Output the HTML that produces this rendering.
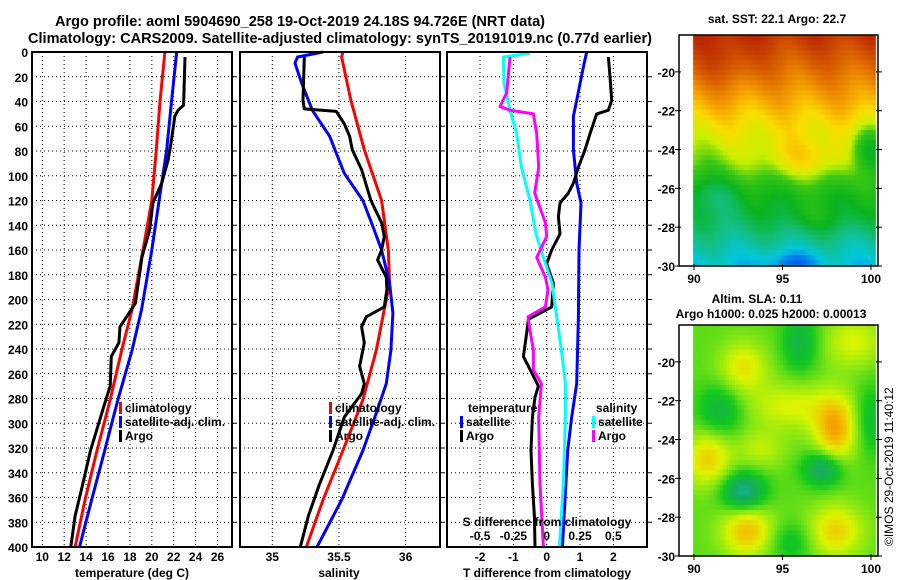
<!DOCTYPE html>
<html><head><meta charset="utf-8"><style>
html,body{margin:0;padding:0;background:#fff;}
svg{display:block;font-family:"Liberation Sans",Arial,sans-serif;font-weight:bold;}
</style></head><body>
<svg id="chart" width="900" height="580" viewBox="0 0 900 580" xmlns="http://www.w3.org/2000/svg">
<rect width="900" height="580" fill="#fff"/>
<text x="55" y="26" font-size="14.5" textLength="490" lengthAdjust="spacingAndGlyphs">Argo profile: aoml 5904690_258 19-Oct-2019 24.18S 94.726E (NRT data)</text>
<text x="28" y="43" font-size="14.5" textLength="624" lengthAdjust="spacingAndGlyphs">Climatology: CARS2009. Satellite-adjusted climatology: synTS_20191019.nc (0.77d earlier)</text>
<g id="plots"></g>
<foreignObject x="679" y="35" width="199" height="231"><canvas xmlns="http://www.w3.org/1999/xhtml" id="sstmap" width="199" height="231"></canvas></foreignObject>
<foreignObject x="679" y="325" width="199" height="231"><canvas xmlns="http://www.w3.org/1999/xhtml" id="slamap" width="199" height="231"></canvas></foreignObject>
<g id="maps"></g>
<text x="777" y="23" font-size="12" text-anchor="middle">sat. SST: 22.1 Argo: 22.7</text>
<text x="757" y="303" font-size="12" text-anchor="middle">Altim. SLA: 0.11</text>
<text x="771" y="318" font-size="12" text-anchor="middle">Argo h1000: 0.025 h2000: 0.00013</text>
<text x="893" y="546" font-size="12" font-weight="normal" transform="rotate(-90 893 546)">©IMOS 29-Oct-2019 11:40:12</text>
</svg>
<script>
// ---------- data ----------
const depthTicks=[0,20,40,60,80,100,120,140,160,180,200,220,240,260,280,300,320,340,360,380,400];
const tTickLabels=[10,12,14,16,18,20,22,24,26];
const sTickLabels=[35,35.5,36];
const dTTickLabels=[-2,-1,0,1,2];
const dSTickLabels=[-0.5,-0.25,0,0.25,0.5];
const climTDepth=[0,40,80,120,160,208,241,281,322,362,400];
const climT=[21.2,20.75,20.4,20.0,19.2,18.2,17.25,16.2,15.0,13.9,13.0];
const satTDepth=[0,40,79,106,160,208,241,281,322,362,400];
const satT=[22.27,21.8,21.36,20.9,20.0,19.07,18.2,16.9,15.7,14.5,13.4];
const argoTDepth=[4,43,47,52,71,87,106,122,144,166,203,214,222,235,246,270,287,322,349,375,400];
const argoT=[23.03,22.9,22.4,22.1,21.8,21.5,20.9,20.1,19.8,19.1,18.5,17.7,17.1,17.0,16.3,16.2,15.6,14.4,13.7,13.0,12.6];
const climSDepth=[0,4,39,79,120,160,187,208,241,281,322,362,400];
const climS=[35.53,35.52,35.59,35.69,35.82,35.87,35.88,35.84,35.78,35.68,35.53,35.38,35.255];
const satSDepth=[0,4,9,25,47,68,98,120,141,160,187,211,241,268,295,322,362,400];
const satS=[35.38,35.19,35.17,35.22,35.30,35.43,35.54,35.68,35.755,35.82,35.88,35.905,35.89,35.855,35.77,35.68,35.52,35.335];
const argoSDepth=[4,39,46,48,58,68,79,95,120,138,149,160,168,182,192,206,214,222,235,254,268,276,295,322,349,375,400];
const argoS=[35.24,35.23,35.24,35.48,35.54,35.58,35.6,35.67,35.74,35.82,35.84,35.82,35.79,35.855,35.86,35.84,35.705,35.67,35.69,35.655,35.69,35.67,35.54,35.455,35.355,35.27,35.21];
const dTSatDepth=[0,12,39,52,79,106,122,160,214,268,295,322,362,400];
const dTSat=[1.2,1.1,0.9,0.8,0.8,0.9,1.03,0.97,0.95,0.9,0.75,0.63,0.55,0.47];
const dTArgoDepth=[4,20,39,47,50,66,79,93,106,114,122,133,147,160,171,187,206,216,227,246,262,270,279,295,322,349,375,400];
const dTArgo=[1.85,1.9,1.95,1.85,1.5,1.3,1.15,0.95,0.8,0.65,0.4,0.35,0.4,0.15,0,0.2,0.15,-0.55,-0.6,-0.7,-0.4,-0.25,-0.35,-0.43,-0.47,-0.43,-0.37,-0.35];
const dSSatDepth=[1,4,25,47,66,93,120,147,166,187,214,241,268,295,349,400];
const dSSat=[-0.125,-0.325,-0.32,-0.275,-0.225,-0.19,-0.125,-0.08,-0.025,0.04,0.075,0.11,0.14,0.14,0.125,0.095];
const dSArgoDepth=[4,33,44,47,50,66,93,114,138,149,166,182,192,206,214,225,241,257,268,295,349,400];
const dSArgo=[-0.275,-0.3,-0.35,-0.275,-0.1,-0.075,-0.06,-0.09,-0.01,0,-0.075,-0.01,0.01,-0.01,-0.14,-0.125,-0.1,-0.1,-0.04,-0.06,-0.05,-0.025];
const latTicks=[-20,-22,-24,-26,-28,-30];
const lonTicks=[90,95,100];

const NS="http://www.w3.org/2000/svg";
const plots=document.getElementById('plots');
function mk(tag,attrs,parent){const e=document.createElementNS(NS,tag);for(const k in attrs)e.setAttribute(k,attrs[k]);(parent||plots).appendChild(e);return e;}
const Y0=52,Y1=547;
const yD=d=>Y0+d*(Y1-Y0)/400;

function panel(name,x0,x1,xf,grids){
  const g=mk('g',{});
  
  
  grids.forEach(v=>{const gl=mk('line',{x1:xf(v),x2:xf(v),y1:Y0,y2:Y1,stroke:'#000','stroke-width':1,'stroke-dasharray':'1,3'},g);
    
    });
  depthTicks.forEach(d=>{if(d===0||d===400)return;const gl=mk('line',{x1:x0,x2:x1,y1:yD(d),y2:yD(d),stroke:'#000','stroke-width':1,'stroke-dasharray':'1,3'},g);
    
    
    const tk=mk('line',{x1:x1-1,x2:x1+5,y1:yD(d),y2:yD(d),stroke:'#000'},g);
    
    });
  return g;
}
function frame(g,x0,x1){const r=mk('rect',{x:x0,y:Y0,width:x1-x0,height:Y1-Y0,fill:'none',stroke:'#000','stroke-width':2},g);
  
  }
function line(g,name,ds,vs,xf,col){
  const p=mk('polyline',{points:ds.map((d,i)=>xf(vs[i]).toFixed(1)+','+yD(d).toFixed(1)).join(' '),fill:'none',stroke:col,'stroke-width':3,'stroke-linejoin':'round'},g);
  
  
}
function txt(g,name,x,y,s,opt){const t=mk('text',Object.assign({x:x,y:y,'font-size':12},opt||{}),g);t.textContent=s;
  
  return t;}
function leg(g,name,x,y,col,label){const r=mk('rect',{x:x,y:y-10,width:3,height:12,fill:col},g);
  
  
  txt(g,name,x+6,y,label);}

// Panel 1 temperature
const xT=v=>42.3+(v-10)*10.95;
let g1=panel('temperature-panel',32,232,xT,tTickLabels);
depthTicks.forEach(d=>txt(g1,'depth-tick-label',28,yD(d)+5,String(d),{'text-anchor':'end'}));
tTickLabels.forEach(v=>txt(g1,'temperature-tick-label',xT(v),561,String(v),{'text-anchor':'middle'}));
txt(g1,'x-axis-title-temperature',132,577,'temperature (deg C)',{'text-anchor':'middle'});
line(g1,'climatology-temperature-line',climTDepth,climT,xT,'#f00');
line(g1,'satellite-temperature-line',satTDepth,satT,xT,'#00f');
line(g1,'argo-temperature-line',argoTDepth,argoT,xT,'#000');
leg(g1,'legend-climatology',119,412,'#f00','climatology');
leg(g1,'legend-satellite-adj',119,426,'#00f','satellite-adj. clim.');
leg(g1,'legend-argo',119,440,'#000','Argo');
frame(g1,32,232);

// Panel 2 salinity
const xS=v=>272.3+(v-35)*133.3;
let g2=panel('salinity-panel',240,440,xS,sTickLabels);
sTickLabels.forEach(v=>txt(g2,'salinity-tick-label',xS(v),561,String(v),{'text-anchor':'middle'}));
txt(g2,'x-axis-title-salinity',339,577,'salinity',{'text-anchor':'middle'});
line(g2,'climatology-salinity-line',climSDepth,climS,xS,'#f00');
line(g2,'satellite-salinity-line',satSDepth,satS,xS,'#00f');
line(g2,'argo-salinity-line',argoSDepth,argoS,xS,'#000');
leg(g2,'legend-climatology',329,412,'#f00','climatology');
leg(g2,'legend-satellite-adj',329,426,'#00f','satellite-adj. clim.');
leg(g2,'legend-argo',329,440,'#000','Argo');
frame(g2,240,440);

// Panel 3 differences
const xdT=v=>546.7+v*33.33;
const xdS=v=>546.7+v*133.3;
let g3=panel('difference-panel',447,647,xdT,dTTickLabels);
dTTickLabels.forEach(v=>txt(g3,'t-diff-tick-label',xdT(v),561,String(v),{'text-anchor':'middle'}));
txt(g3,'x-axis-title-t-diff',547,577,'T difference from climatology',{'text-anchor':'middle'});
line(g3,'satellite-t-diff-line',dTSatDepth,dTSat,xdT,'#00f');
line(g3,'argo-t-diff-line',dTArgoDepth,dTArgo,xdT,'#000');
line(g3,'satellite-s-diff-line',dSSatDepth,dSSat,xdS,'#0ff');
line(g3,'argo-s-diff-line',dSArgoDepth,dSArgo,xdS,'#f0f');
txt(g3,'legend-temperature-heading',468,412,'temperature');
leg(g3,'legend-t-satellite',460,426,'#00f','satellite');
leg(g3,'legend-t-argo',460,440,'#000','Argo');
txt(g3,'legend-salinity-heading',596,412,'salinity');
leg(g3,'legend-s-satellite',592,426,'#0ff','satellite');
leg(g3,'legend-s-argo',592,440,'#f0f','Argo');
txt(g3,'s-diff-axis-title',547,526,'S difference from climatology',{'text-anchor':'middle'});
dSTickLabels.forEach(v=>txt(g3,'s-diff-tick-label',xdS(v),540,String(v),{'text-anchor':'middle'}));
frame(g3,447,647);

// ---------- maps ----------
const maps=document.getElementById('maps');
function mapAxes(name,y0,y1){
  const g=mk('g',{},maps);
  
  
  const lat=v=>y0+(-18.1-v)*((y1-y0)/11.9);
  const lon=v=>694+(v-90)*17.7;
  latTicks.forEach(v=>{txt(g,'lat-tick-label',675,lat(v)+5,String(v),{'text-anchor':'end'});
    const t=mk('line',{x1:675,x2:681,y1:lat(v),y2:lat(v),stroke:'#000'},g);
    
    const t2=mk('line',{x1:876,x2:882,y1:lat(v),y2:lat(v),stroke:'#000'},g);
    });
  lonTicks.forEach(v=>{txt(g,'lon-tick-label',lon(v),y1+17,String(v),{'text-anchor':'middle'});
    const t=mk('line',{x1:lon(v),x2:lon(v),y1:y1-2,y2:y1+4,stroke:'#000'},g);
    });
  const r=mk('rect',{x:679,y:y0,width:199,height:y1-y0,fill:'none',stroke:'#000','stroke-width':1.5},g);
  
}
mapAxes('sst-map-axes',35,266);
mapAxes('sla-map-axes',325,556);

function lerpCol(stops,v){v=Math.max(0,Math.min(1,v));for(let i=1;i<stops.length;i++){if(v<=stops[i][0]){const a=stops[i-1],b=stops[i],t=(v-a[0])/(b[0]-a[0]);return [0,1,2].map(k=>Math.round(a[1][k]+(b[1][k]-a[1][k])*t));}}return stops[stops.length-1][1];}
const sstStops=[[0,[0,40,200]],[0.12,[0,110,240]],[0.22,[0,200,220]],[0.32,[20,190,130]],[0.42,[10,180,30]],[0.52,[60,200,20]],[0.6,[200,240,0]],[0.68,[250,220,0]],[0.76,[245,160,0]],[0.86,[220,100,0]],[1,[180,30,0]]];
const slaStops=[[0,[0,200,190]],[0.2,[20,170,100]],[0.4,[20,200,30]],[0.55,[130,230,20]],[0.7,[220,245,0]],[0.85,[245,190,0]],[1,[240,130,0]]];
function drawMap(id,stops,field){
  const c=document.getElementById(id),ctx=c.getContext('2d');
  ctx.fillStyle='#fff';ctx.fillRect(0,0,199,231);
  const cw=3,ch=5;
  for(let py=0;py<231;py+=ch)for(let px=14;px<197;px+=cw){
    const lon=90+(px+1.5-15)/17.7, lat=-18.1-(py+2.5)/19.4;
    const col=lerpCol(stops,field(lon,lat,px,py));
    ctx.fillStyle='rgb('+col.join(',')+')';ctx.fillRect(px,py,cw,ch);
  }
}
function blob(lon,lat,cx,cy,rx,ry){const dx=(lon-cx)/rx,dy=(lat-cy)/ry;return Math.exp(-(dx*dx+dy*dy));}
drawMap('sstmap',sstStops,(lon,lat,px,py)=>{
  let v=0.93-(-18.5-lat)*0.062;
  v+=0.03*Math.sin(lon*1.9+lat*0.7);
  v+=0.06*blob(lon,lat,91.8,-19.5,1.5,1.5);
  v+=0.12*blob(lon,lat,96.5,-24.5,3,1.1);
  v+=0.06*blob(lon,lat,97,-27.5,2.5,0.8);
  v-=0.2*blob(lon,lat,99.8,-24,1,1.2);
  v-=0.08*blob(lon,lat,91,-26.3,2,1);
  v-=0.1*blob(lon,lat,95.5,-29.8,1.5,0.6);
  return v;});
drawMap('slamap',slaStops,(lon,lat)=>{
  let v=0.5;
  v+=0.4*blob(lon,lat,98,-23.5,1.2,1.7);
  v+=0.3*blob(lon,lat,90.8,-25,1.3,1.4);
  v+=0.35*blob(lon,lat,93,-28.7,1.4,1.3);
  v+=0.3*blob(lon,lat,98,-28.7,1.5,1.3);
  v+=0.25*blob(lon,lat,92.8,-20.3,1.3,1.3);
  v+=0.2*blob(lon,lat,95.5,-22.3,2.5,1.2);
  v+=0.2*blob(lon,lat,99,-19,1.6,1.3);
  v+=0.15*blob(lon,lat,93.8,-24.5,1.3,1);
  v-=0.4*blob(lon,lat,92.8,-26.7,1.2,1);
  v-=0.35*blob(lon,lat,97.3,-25.5,1.1,0.9);
  v-=0.22*blob(lon,lat,96,-19,1,1.5);
  v-=0.22*blob(lon,lat,91.5,-22.5,1.3,1.3);
  v-=0.18*blob(lon,lat,100,-23,1,1.8);
  v-=0.15*blob(lon,lat,95.5,-29.3,1.2,1);
  return v;});
</script>
</body></html>
